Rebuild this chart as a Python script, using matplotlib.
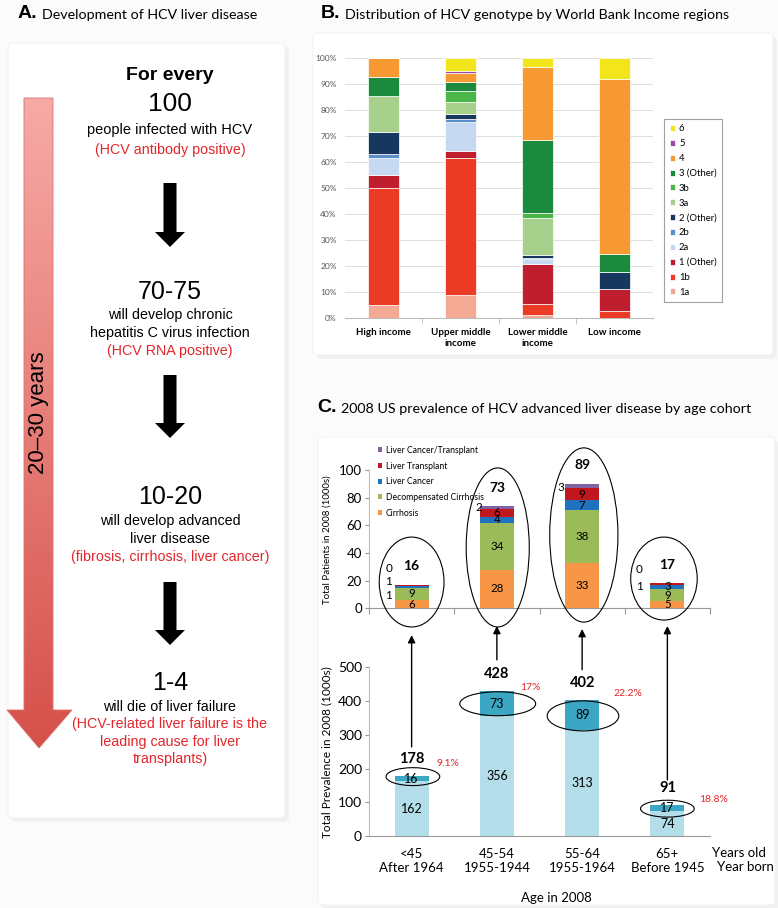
import numpy as np
import matplotlib
matplotlib.use("Agg")
import matplotlib.pyplot as plt
from matplotlib.patches import Polygon, Ellipse, FancyBboxPatch
from matplotlib.colors import LinearSegmentedColormap

# ---------------- data ----------------
# Panel B: genotype share (%) per World Bank income region
regions = ["High income", "Upper middle\nincome", "Lower middle\nincome", "Low income"]
genotypes = ["1a", "1b", "1 (Other)", "2a", "2b", "2 (Other)", "3a", "3b", "3 (Other)", "4", "5", "6"]
high_income = [5, 45, 5, 6.5, 1.5, 8.7, 13.7, 0, 7.3, 7.3, 0, 0]
upper_middle = [9, 52.5, 2.9, 11.1, 0.9, 2.1, 4.7, 4.1, 3.6, 3.2, 0.9, 5]
lower_middle = [1.3, 4.1, 15.5, 1.9, 0.3, 1.2, 14.1, 1.9, 28.2, 28.2, 0, 3.3]
low_income = [0, 2.8, 8.3, 0, 0, 6.6, 0, 0, 6.9, 67.3, 0, 8.1]

# Panel C top: advanced liver disease (1000s)
cohorts = ["<45\nAfter 1964", "45-54\n1955-1944", "55-64\n1955-1964", "65+\nBefore 1945"]
cirrhosis = [6, 28, 33, 5]
decomp_cirrhosis = [9, 34, 38, 9]
liver_cancer = [1, 4, 7, 3]
liver_transplant = [1, 6, 9, 1]
cancer_transplant = [0, 2, 3, 0]
advanced_totals = [16, 73, 89, 17]

# Panel C bottom: total prevalence (1000s)
no_advanced = [162, 356, 313, 74]
advanced = [16, 73, 89, 17]
prevalence_totals = [178, 428, 402, 91]
advanced_share = ["9.1%", "17%", "22.2%", "18.8%"]

# ---------------- layout helpers ----------------
W, H = 778, 908
fig = plt.figure(figsize=(W / 100, H / 100), dpi=100)
fig.patch.set_facecolor("#fbfbfb")

SANS = "Liberation Sans"
TITLE = "Lato"
NARROW = "Lato"
RED = "#E3262B"


def box(x0, y0, x1, y1):
    return [x0 / W, 1 - y1 / H, (x1 - x0) / W, (y1 - y0) / H]


ov = fig.add_axes([0, 0, 1, 1], zorder=0)
ov.axis("off")

# faint panel cards
for x0, y0, x1, y1 in [(8, 43, 285, 818), (313, 33, 773, 355), (318, 437, 775, 905)]:
    ov.add_patch(FancyBboxPatch((x0 + 4, y0 + 4), x1 - x0, y1 - y0,
                                boxstyle="round,pad=0,rounding_size=5", fc="#f1f1f1", ec="none"))
    ov.add_patch(FancyBboxPatch((x0, y0), x1 - x0, y1 - y0,
                                boxstyle="round,pad=0,rounding_size=5", fc="white", ec="#f0f0f0", lw=0.6))

# panel titles
for x, y, letter, text in [(18, 14, "A.", "Development of HCV liver disease"),
                           (321, 14, "B.", "Distribution of HCV genotype by World Bank Income regions"),
                           (317, 408, "C.", "2008 US prevalence of HCV advanced liver disease by age cohort")]:
    t = ov.text(x, y, letter, fontsize=14, fontweight="bold", family=SANS, va="center", ha="left")
    ov.annotate(text, xy=(1, 0.5), xycoords=t, xytext=(3, -0.5), textcoords="offset points",
                fontsize=10.3, family=TITLE, va="center", ha="left")

# ---------------- panel A ----------------
verts = [(24, 98), (53, 98), (53, 710), (72, 710), (39, 748), (7, 710), (24, 710)]
arrow_poly = Polygon(verts, closed=True, fc="none", ec="#D8736D", lw=0.6, zorder=3)
ov.add_patch(arrow_poly)
grad = np.linspace(0, 1, 256).reshape(-1, 1)
cmap = LinearSegmentedColormap.from_list("redfade", ["#F7AAA6", "#D6504A"])
im = ov.imshow(grad, cmap=cmap, extent=(7, 72, 748, 98), aspect="auto", zorder=2)
im.set_clip_path(arrow_poly)
ov.text(39, 413, "20\u201330 years", rotation=90, fontsize=16, family=SANS,
        ha="center", va="center", zorder=4)

cx = 170
ov.text(cx, 76, "For every", fontsize=14, fontweight="bold", family=SANS, ha="center", va="center")
ov.text(cx, 104, "100", fontsize=19, family=SANS, ha="center", va="center")
ov.text(cx, 130, "people infected with HCV", fontsize=10.5, family=SANS, ha="center", va="center")
ov.text(cx, 150, "(HCV antibody positive)", fontsize=10.3, family=SANS, color=RED, ha="center", va="center")
ov.text(cx, 292, "70-75", fontsize=18, family=SANS, ha="center", va="center")
ov.text(cx, 497, "10-20", fontsize=18, family=SANS, ha="center", va="center")
ov.text(cx, 683, "1-4", fontsize=18, family=SANS, ha="center", va="center")
for y, s, c in [(315, "will develop chronic", "black"),
                (333, "hepatitis C virus infection", "black"),
                (351, "(HCV RNA positive)", RED),
                (521, "will develop advanced", "black"),
                (539, "liver disease", "black"),
                (557, "(fibrosis, cirrhosis, liver cancer)", RED),
                (707, "will die of liver failure", "black"),
                (724, "(HCV-related liver failure is the", RED),
                (742, "leading cause for liver", RED),
                (759, "transplants)", RED)]:
    ov.text(cx, y, s, fontsize=10.3, family=SANS, color=c, ha="center", va="center")

for top, base, tip in [(183, 232, 247), (375, 423, 438), (582, 630, 645)]:
    ov.add_patch(Polygon([(cx - 6.5, top), (cx + 6.5, top), (cx + 6.5, base), (cx + 15, base),
                          (cx, tip), (cx - 15, base), (cx - 6.5, base)], closed=True, fc="black", ec="none"))

ov.set_xlim(0, W)
ov.set_ylim(H, 0)

# ---------------- panel B ----------------
geno_colors = ["#F4A995", "#EC3B24", "#BE1E2D", "#C6D9F0", "#5A8ECB", "#17375E",
               "#A8D08D", "#4BB647", "#1B8A3E", "#F79A34", "#9A4CA6", "#F3E51C"]
axB = fig.add_axes(box(345, 58, 653, 318.3), facecolor="none", zorder=1)
shares = np.array([high_income, upper_middle, lower_middle, low_income]).T / 100.0
xb = np.arange(len(regions))
bottom = np.zeros(len(regions))
handles = []
for g, col, vals in zip(genotypes, geno_colors, shares):
    h = axB.bar(xb, vals, 0.4, bottom=bottom, color=col, edgecolor="white", linewidth=0.5, label=g, zorder=3)
    handles.append(h)
    bottom += vals
axB.set_xlim(-0.5, 3.5)
axB.set_ylim(0, 1)
axB.set_yticks(np.arange(0, 1.01, 0.1))
axB.set_yticklabels([f"{int(round(v * 100))}%" for v in np.arange(0, 1.01, 0.1)])
axB.grid(axis="y", color="#dddddd", linewidth=0.7, zorder=0)
axB.set_xticks(xb)
axB.set_xticklabels(regions, fontsize=7, fontweight="bold", family=TITLE, linespacing=1.3)
axB.set_xticks([0.5, 1.5, 2.5], minor=True)
axB.tick_params(axis="x", which="major", length=0, pad=7)
axB.tick_params(axis="x", which="minor", length=4, color="#bbbbbb")
axB.tick_params(axis="y", length=0, labelsize=6, labelcolor="#555555", pad=6)
for lab in axB.get_yticklabels():
    lab.set_family(TITLE)
for s in ["left", "right", "top"]:
    axB.spines[s].set_visible(False)
axB.spines["bottom"].set_color("#bbbbbb")
legB = axB.legend(handles[::-1], genotypes[::-1], loc="upper left", bbox_to_anchor=(1.02, 0.785),
                  frameon=True, fancybox=False, edgecolor="#888888",
                  handlelength=0.6, handleheight=0.6, labelspacing=0.62, borderpad=0.6, handletextpad=0.4,
                  prop={"family": TITLE, "size": 6.8})
legB.get_frame().set_linewidth(0.8)

# ---------------- panel C top ----------------
xc = np.arange(len(cohorts))
axT = fig.add_axes(box(369, 470, 710, 608.3), facecolor="none", zorder=2)
top_series = [("Cirrhosis", cirrhosis, "#F79646"),
              ("Decompensated Cirrhosis", decomp_cirrhosis, "#9BBB59"),
              ("Liver Cancer", liver_cancer, "#1F73BE"),
              ("Liver Transplant", liver_transplant, "#C0161E"),
              ("Liver Cancer/Transplant", cancer_transplant, "#8064A2")]
bottom = np.zeros(len(cohorts))
top_handles = []
seg_mid = []
for name, vals, col in top_series:
    vals = np.array(vals, dtype=float)
    h = axT.bar(xc, vals, 0.4, bottom=bottom, color=col, label=name, zorder=3)
    top_handles.append(h)
    seg_mid.append(bottom + vals / 2)
    bottom = bottom + vals
axT.set_xlim(-0.5, 3.5)
axT.set_ylim(0, 100)
axT.set_yticks(range(0, 101, 20))
axT.set_xticks([-0.5, 0.5, 1.5, 2.5, 3.5])
axT.set_xticklabels([])
axT.tick_params(axis="x", length=4, color="#999999")
axT.tick_params(axis="y", length=3, color="#999999", labelsize=9.5, pad=2)
for lab in axT.get_yticklabels():
    lab.set_family(NARROW)
for s in ["right", "top"]:
    axT.spines[s].set_visible(False)
axT.spines["left"].set_color("#bbbbbb")
axT.spines["bottom"].set_color("#999999")
axT.set_ylabel("Total Patients in 2008 (1000s)", fontsize=7, family=NARROW)
axT.yaxis.set_label_coords(-0.11, 0.5)
axT.legend(top_handles[::-1], [s[0] for s in top_series][::-1], loc="upper left",
           bbox_to_anchor=(0.015, 1.2), frameon=False, prop={"family": NARROW, "size": 6.2},
           handlelength=0.55, handleheight=0.55, labelspacing=0.78, handletextpad=0.4, borderaxespad=0)

# inner labels for cirrhosis / decompensated / cancer / transplant
inside = [[True, True, False, False, False],
          [True, True, True, True, False],
          [True, True, True, True, False],
          [True, True, True, False, False]]
for i in range(len(cohorts)):
    for k, (name, vals, col) in enumerate(top_series):
        if inside[i][k]:
            axT.text(xc[i], seg_mid[k][i], str(vals[i]), ha="center", va="center",
                     fontsize=8.3, family=NARROW, zorder=4)
    axT.text(xc[i], bottom[i] + 9, str(advanced_totals[i]), ha="center", va="bottom",
             fontsize=10, fontweight="bold", family=NARROW)
# side labels for small segments
side_labels = [[(29, cancer_transplant[0]), (19.5, liver_transplant[0]), (9, liver_cancer[0])],
               [(73, cancer_transplant[1])],
               [(87.5, cancer_transplant[2])],
               [(28, cancer_transplant[3]), (15.5, liver_transplant[3])]]
side_dx = [-0.27, -0.21, -0.25, -0.33]
for i, labs in enumerate(side_labels):
    for y, v in labs:
        axT.text(xc[i] + side_dx[i], y, str(v), ha="center", va="center", fontsize=8.5, family=NARROW)

for cxe, cye, we, he in [(0.0, 19, 0.76, 65), (1.01, 44, 0.74, 115), (2.02, 53, 0.8, 126), (2.96, 21.5, 0.78, 60)]:
    axT.add_patch(Ellipse((cxe, cye), we, he, fc="none", ec="black", lw=0.8, clip_on=False, zorder=5))

# ---------------- panel C bottom ----------------
axL = fig.add_axes(box(369, 667.3, 710, 836), facecolor="none", zorder=1)
axL.bar(xc, no_advanced, 0.4, color="#B3DDE8", zorder=3)
axL.bar(xc, advanced, 0.4, bottom=no_advanced, color="#3BA7C4", zorder=3)
axL.set_xlim(-0.5, 3.5)
axL.set_ylim(0, 500)
axL.set_yticks(range(0, 501, 100))
axL.set_xticks(xc)
axL.set_xticklabels(cohorts, fontsize=9.5, family=NARROW, linespacing=1.1)
axL.tick_params(axis="x", length=0, pad=9)
axL.tick_params(axis="y", length=3, color="#999999", labelsize=10, pad=2)
for lab in axL.get_yticklabels():
    lab.set_family(NARROW)
for s in ["right", "top"]:
    axL.spines[s].set_visible(False)
axL.spines["left"].set_color("#bbbbbb")
axL.spines["bottom"].set_color("#999999")
axL.set_ylabel("Total Prevalence in 2008 (1000s)", fontsize=8.5, family=NARROW)
axL.yaxis.set_label_coords(-0.108, 0.5)

pct_pos = [(0.29, 216), (0.27, 440), (0.37, 423), (0.37, 107)]
for i in range(len(cohorts)):
    axL.text(xc[i], no_advanced[i] / 2, str(no_advanced[i]), ha="center", va="center", fontsize=9, family=NARROW)
    axL.text(xc[i], no_advanced[i] + advanced[i] / 2, str(advanced[i]), ha="center", va="center",
             fontsize=9, family=NARROW)
    axL.text(xc[i], no_advanced[i] + advanced[i] + 30, str(prevalence_totals[i]), ha="center", va="bottom",
             fontsize=10.5, fontweight="bold", family=NARROW)
    axL.text(xc[i] + pct_pos[i][0], pct_pos[i][1], advanced_share[i], ha="left", va="center",
             fontsize=7.5, color=RED, family=NARROW)

for cxe, cye, we, he in [(0.015, 176, 0.63, 53), (1.01, 392, 0.89, 71), (2.01, 356, 0.84, 89), (3.0, 81, 0.63, 50)]:
    axL.add_patch(Ellipse((cxe, cye), we, he, fc="none", ec="black", lw=0.8, clip_on=False, zorder=5))

# arrows from prevalence bars up to the advanced disease bars
for i, (start, tip) in enumerate([(264, -19.4), (522, -12.8), (493, -15), (166, -12.8)]):
    axT.annotate("", xy=(xc[i], tip), xycoords="data", xytext=(xc[i], start), textcoords=axL.transData,
                 arrowprops=dict(arrowstyle="-|>", color="black", lw=1, mutation_scale=11, shrinkA=0, shrinkB=0),
                 annotation_clip=False)

ov.text(712, 853, "Years old", fontsize=9.5, family=NARROW, ha="left", va="center")
ov.text(717, 867, "Year born", fontsize=9.5, family=NARROW, ha="left", va="center")
ov.text(556, 898, "Age in 2008", fontsize=9.5, family=NARROW, ha="center", va="center")

fig.savefig("out.png", dpi=100, facecolor=fig.get_facecolor())
